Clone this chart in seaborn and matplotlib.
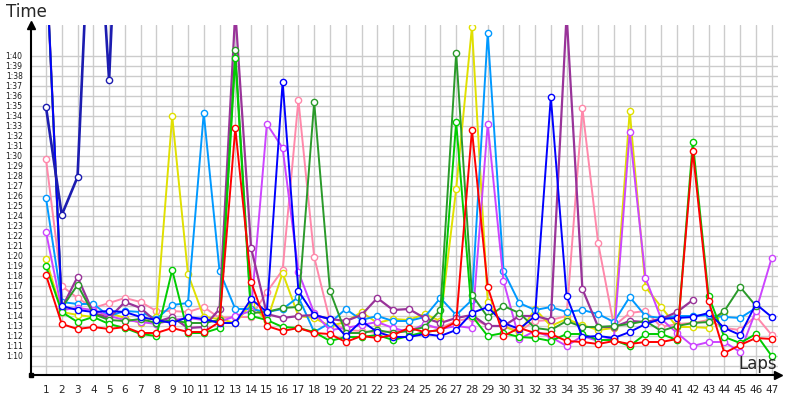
import numpy as np
import pandas as pd
import matplotlib
matplotlib.use("Agg")
import matplotlib.pyplot as plt
import seaborn as sns

# ---- data (lap times in seconds, lap 1 onward) ----
laps = list(range(1, 48))

red = [78.1, 73.2, 72.7, 72.9, 72.7, 72.9, 72.3, 72.3, 72.8, 72.4, 72.4, 73.4, 92.8, 77.4, 73.0, 72.5,
       72.8, 72.3, 72.2, 71.4, 72.0, 71.8, 72.1, 72.8, 72.4, 72.6, 73.4, 92.6, 76.9, 72.0, 72.8, 72.3,
       72.2, 71.5, 71.4, 71.2, 71.5, 71.2, 71.4, 71.4, 71.7, 90.5, 75.5, 70.3, 71.1, 71.8, 71.7]
lime = [79.0, 74.4, 73.4, 73.9, 73.2, 72.8, 72.2, 72.0, 78.6, 72.3, 72.3, 72.8, 99.8, 74.0, 73.6, 72.9,
        72.8, 72.4, 71.5, 71.9, 71.9, 72.1, 71.6, 72.0, 72.4, 72.6, 93.4, 74.0, 72.0, 72.3, 71.9, 71.8,
        71.5, 72.2, 72.2, 71.6, 71.6, 71.0, 72.2, 72.2, 71.6, 91.4, 76.0, 71.9, 71.3, 72.2, 70.0]
forest = [110.0, 74.8, 77.1, 74.2, 73.6, 73.5, 73.7, 73.3, 73.6, 73.3, 73.3, 73.6, 100.6, 74.3, 74.4, 74.8,
          74.9, 95.4, 76.5, 72.3, 72.3, 72.6, 72.3, 72.5, 72.9, 74.6, 100.3, 76.1, 73.9, 75.0, 74.3, 72.8,
          72.6, 73.5, 72.9, 72.9, 73.0, 73.2, 73.5, 72.5, 73.0, 73.3, 73.4, 74.5, 76.9, 75.0]
blue = [110.0, 75.0, 74.6, 74.4, 74.5, 74.4, 73.9, 73.6, 73.3, 73.9, 73.7, 73.3, 73.3, 75.7, 74.4, 97.4,
        76.5, 74.1, 73.7, 72.0, 73.5, 72.4, 71.9, 71.9, 72.2, 72.0, 72.6, 74.3, 74.9, 73.3, 72.7, 74.0,
        95.9, 76.0, 71.9, 72.0, 71.8, 72.4, 73.2, 73.7, 73.8, 73.9, 74.3, 72.8, 72.1, 75.2, 73.9]
navy = [94.9, 84.1, 87.9, 123.0, 97.6, 133.0]
skyblue = [85.8, 75.4, 75.2, 75.2, 74.0, 74.5, 74.4, 73.7, 75.1, 75.3, 94.3, 78.5, 74.7, 74.7, 74.4, 74.7,
           75.9, 72.4, 73.3, 74.7, 73.6, 74.0, 73.5, 73.5, 73.9, 75.8, 74.1, 75.6, 102.3, 78.5, 75.3, 74.6,
           74.9, 74.4, 74.6, 74.2, 73.4, 75.9, 74.0, 73.8, 74.0, 74.0, 74.1, 73.9, 73.8, 74.8]
yellow = [79.7, 74.4, 74.1, 73.9, 74.3, 73.8, 73.3, 73.9, 94.0, 78.2, 73.9, 73.7, 73.3, 75.2, 73.5, 78.3,
          74.0, 73.8, 73.0, 73.4, 74.4, 73.3, 73.7, 73.6, 74.2, 73.5, 86.7, 102.9, 75.4, 73.0, 72.3, 74.7,
          73.0, 73.7, 73.1, 72.6, 72.8, 94.5, 76.9, 74.9, 72.9, 72.9, 72.8, 74.4]
pink = [89.7, 77.0, 75.8, 74.8, 75.3, 75.8, 75.4, 74.5, 74.5, 74.4, 74.9, 73.8, 73.9, 73.9, 76.4, 78.6,
        95.6, 79.9, 73.5, 72.6, 72.5, 72.3, 72.5, 72.6, 73.0, 72.8, 73.5, 73.8, 73.0, 73.0, 72.5, 73.5,
        73.6, 74.0, 94.8, 81.3, 73.0, 74.3, 74.5, 72.9, 73.2, 73.3, 73.6, 72.8, 72.6, 74.0, 72.1]
purple = [110.0, 74.8, 77.9, 74.3, 73.8, 75.4, 74.8, 73.4, 73.9, 72.8, 72.9, 74.7, 104.5, 80.8, 74.2, 73.8,
          74.0, 74.1, 73.7, 73.5, 74.1, 75.8, 74.6, 74.7, 73.8, 73.3, 73.8, 74.1, 73.0, 73.0, 74.0, 74.0,
          73.6, 104.2, 76.7, 72.9, 72.9, 73.5, 73.4, 73.7, 74.4, 75.6]
violet = [82.4, 74.6, 74.8, 74.6, 74.0, 73.6, 73.4, 73.2, 73.6, 73.8, 73.6, 73.4, 74.0, 74.5, 93.2, 90.8,
          78.4, 74.3, 72.6, 72.8, 73.1, 73.4, 72.8, 72.4, 73.2, 72.7, 73.0, 72.8, 93.2, 77.5, 71.7, 72.5,
          71.9, 71.0, 72.0, 71.5, 71.8, 92.4, 77.8, 73.7, 72.3, 71.0, 71.4, 71.4, 70.4, 74.5, 79.8]

ytick_secs = list(range(69, 101))
ytick_labels = ["" if s < 70 else f"1:{s - 60:02d}" for s in ytick_secs]

series = [
    ("Pink", pink, "#ff88aa", 1.4),
    ("Yellow", yellow, "#e0e000", 1.4),
    ("SkyBlue", skyblue, "#0099ff", 1.4),
    ("Violet", violet, "#cc44ff", 1.4),
    ("Purple", purple, "#993399", 1.6),
    ("Forest", forest, "#2a9a2a", 1.4),
    ("Lime", lime, "#00cc00", 1.4),
    ("Blue", blue, "#0000ff", 1.4),
    ("Red", red, "#ff0000", 1.4),
    ("Navy", navy, "#1c1cb0", 1.9),
]

rows = []
for name, vals, _, _ in series:
    for i, v in enumerate(vals):
        rows.append((name, laps[i], v))
df = pd.DataFrame(rows, columns=["driver", "lap", "time"])

sns.set_style("white")
plt.rcParams["font.family"] = ["DejaVu Sans"]

fig = plt.figure(figsize=(8, 4), dpi=100)
ax = fig.add_axes([31 / 800, 25 / 400, (778 - 31) / 800, (375 - 25) / 400])

for name, _, col, lw in series:
    sns.lineplot(data=df[df.driver == name], x="lap", y="time", color=col, linewidth=lw,
                 marker="o", markersize=4.5, markerfacecolor="white", markeredgecolor=col,
                 markeredgewidth=1.0, estimator=None, sort=True, ax=ax, legend=False)

ax.set_xlim(0.05, 47.4)
ax.set_ylim(68.1, 103.1)
ax.set_xticks(laps)
ax.set_xticklabels([str(l) for l in laps])
ax.set_yticks(ytick_secs)
ax.set_yticklabels(ytick_labels)
ax.grid(True, color="#cccccc", linewidth=1)
ax.set_axisbelow(True)
ax.set_xlabel("")
ax.set_ylabel("")
ax.tick_params(axis="both", length=0)
ax.tick_params(axis="x", labelsize=7.5, pad=7)
ax.tick_params(axis="y", labelsize=5.5, pad=6, labelcolor="#1a1a1a")

for s in ["top", "right"]:
    ax.spines[s].set_visible(False)
for s in ["left", "bottom"]:
    ax.spines[s].set_color("black")
    ax.spines[s].set_linewidth(1.5)

ax.plot(0, 1, marker="^", color="black", markersize=6, transform=ax.transAxes, clip_on=False)
ax.plot(1, 0, marker=">", color="black", markersize=6, transform=ax.transAxes, clip_on=False)
ax.plot(0, 0, marker="s", color="black", markersize=3, transform=ax.transAxes, clip_on=False)

fig.text(26 / 800, 1 - 12 / 400, "Time", fontsize=12, ha="center", va="center")
fig.text(758 / 800, 1 - 364 / 400, "Laps", fontsize=12, ha="center", va="center")

fig.savefig("out.png", dpi=100)
